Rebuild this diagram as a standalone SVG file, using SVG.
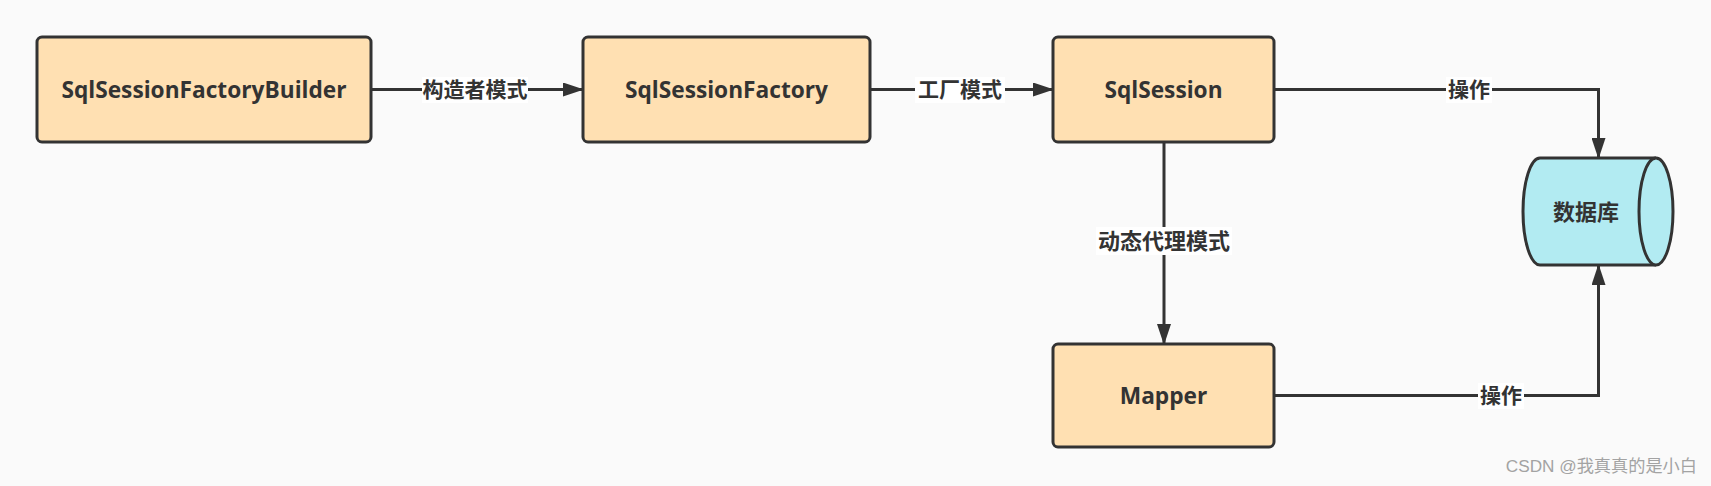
<svg xmlns="http://www.w3.org/2000/svg" width="1711" height="486" viewBox="0 0 1711 486">
<style>
.node{fill:#ffe0b2;stroke:#333;stroke-width:3}
.db{fill:#b2ebf2;stroke:#333;stroke-width:3}
.nt{font-family:"Open Sans","Noto Sans CJK SC",sans-serif;font-weight:bold;font-size:22.7px;fill:#333;text-anchor:middle}
.lt{font-family:"Noto Sans CJK SC",sans-serif;font-weight:bold;font-size:21px;fill:#333;text-anchor:middle}
.edge{fill:none;stroke:#333;stroke-width:3}
.lbg{fill:#fff}
.wm{font-family:"Liberation Sans","Noto Sans CJK SC",sans-serif;font-size:17.2px;fill:#a3a3a3;text-anchor:end}
</style>
<defs>
<marker id="arr" markerUnits="userSpaceOnUse" markerWidth="21" markerHeight="14" refX="20" refY="7" orient="auto">
<path d="M0,0 L21,7 L0,14 Z" fill="#333"/>
</marker>
</defs>
<rect width="1711" height="486" fill="#fafafa"/>
<g id="connectors">
<path class="edge" d="M371,89.5 H583" marker-end="url(#arr)"/>
<path class="edge" d="M870,89.5 H1053" marker-end="url(#arr)"/>
<path class="edge" d="M1274,89.5 H1598.5 V158" marker-end="url(#arr)"/>
<path class="edge" d="M1164,142 V344" marker-end="url(#arr)"/>
<path class="edge" d="M1274,395.5 H1598.5 V265" marker-end="url(#arr)"/>
<rect class="lbg" x="422" y="77" width="106" height="26"/>
<text class="lt" x="475" y="97">构造者模式</text>
<rect class="lbg" x="915" y="77" width="90" height="26"/>
<text class="lt" x="960" y="97">工厂模式</text>
<rect class="lbg" x="1446" y="77" width="46" height="26"/>
<text class="lt" x="1469" y="97">操作</text>
<rect class="lbg" x="1096" y="227" width="136" height="28"/>
<text class="lt" x="1164" y="249" style="font-size:22px">动态代理模式</text>
<rect class="lbg" x="1478" y="383" width="46" height="26"/>
<text class="lt" x="1501" y="403">操作</text>
</g>
<g id="builder">
<rect class="node" x="37" y="37" width="334" height="105" rx="5"/>
<text class="nt" x="204" y="97.5">SqlSessionFactoryBuilder</text>
</g>
<g id="factory">
<rect class="node" x="583" y="37" width="287" height="105" rx="5"/>
<text class="nt" x="726.5" y="97.5">SqlSessionFactory</text>
</g>
<g id="session">
<rect class="node" x="1053" y="37" width="221" height="105" rx="5"/>
<text class="nt" x="1163.5" y="97.5">SqlSession</text>
</g>
<g id="mapper">
<rect class="node" x="1053" y="344" width="221" height="103" rx="5"/>
<text class="nt" x="1163.5" y="403.5">Mapper</text>
</g>
<g id="database">
<path class="db" d="M1540,158 H1656 A17,53.5 0 0 1 1656,265 H1540 A17,53.5 0 0 1 1540,158 Z"/>
<path class="db" d="M1656,158 A17,53.5 0 0 0 1656,265"/>
<text class="lt" x="1586" y="220" style="font-size:22px">数据库</text>
</g>
<text class="wm" x="1697" y="472">CSDN @我真真的是小白</text>
</svg>
